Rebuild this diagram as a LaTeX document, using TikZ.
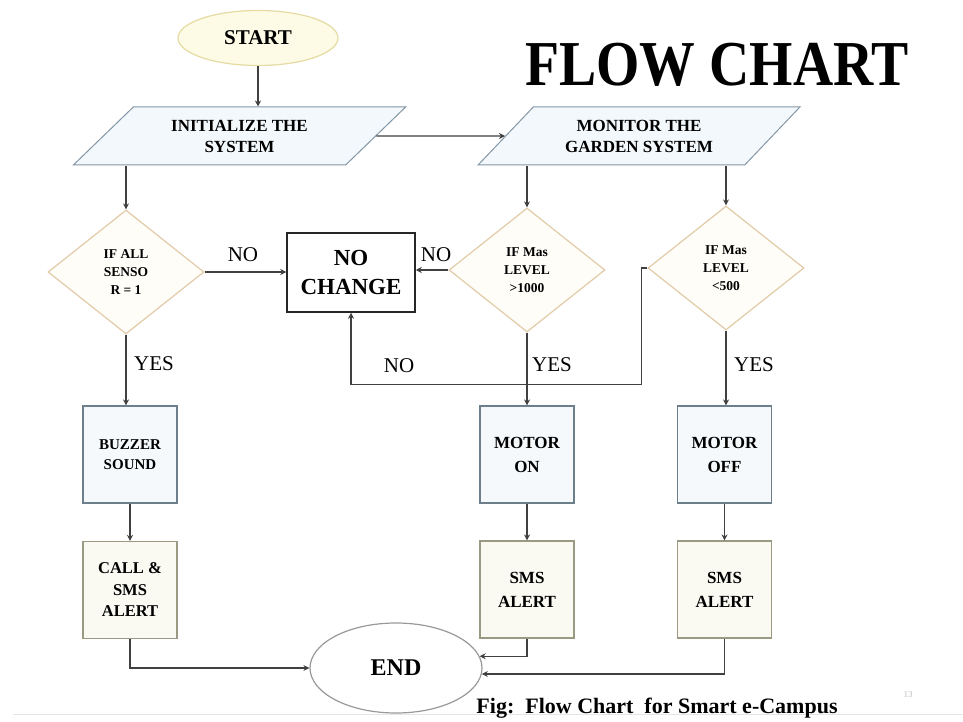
\documentclass[tikz,border=0pt]{standalone}
\usepackage{fontspec}
\setmainfont{Liberation Serif}
\usetikzlibrary{shapes.geometric,arrows.meta}
\definecolor{parafill}{HTML}{F2F8FB}
\definecolor{paraline}{HTML}{8497A6}
\definecolor{diafill}{HTML}{FFFDF8}
\definecolor{dialine}{HTML}{E2CBA8}
\definecolor{bluebox}{HTML}{F5F9FB}
\definecolor{blueline}{HTML}{6E7F8C}
\definecolor{greenbox}{HTML}{FAFAF3}
\definecolor{greenline}{HTML}{9A9A82}
\definecolor{startfill}{HTML}{FDFBE6}
\definecolor{startline}{HTML}{E6DBA2}
\definecolor{conn}{HTML}{404040}
\newcommand{\fs}[2]{\fontsize{#1}{#2}\selectfont}
\begin{document}
\begin{tikzpicture}[x=1pt,y=-1pt,
  para/.style={trapezium, trapezium stretches=true, trapezium left angle=40,
    trapezium right angle=140, draw=paraline, fill=parafill, line width=1pt,
    minimum height=58pt, inner sep=0pt, align=center, font=\fs{17}{21}\bfseries},
  decision/.style={diamond, draw=dialine, fill=diafill, line width=1.2pt,
    minimum width=156pt, minimum height=124pt, inner sep=0pt, align=center,
    font=\fs{13.5}{18}\bfseries},
  bluestep/.style={rectangle, draw=blueline, fill=bluebox, line width=1.1pt,
    minimum width=94pt, minimum height=97pt, inner sep=0pt, align=center},
  greenstep/.style={rectangle, draw=greenline, fill=greenbox, line width=1.1pt,
    minimum width=94pt, minimum height=97pt, inner sep=0pt, align=center},
  lbl/.style={font=\fs{21}{24}, inner sep=0pt},
  arr/.style={draw=conn, line width=1.2pt, -{Stealth[length=6pt,width=6pt]}}
]
\useasboundingbox (0,0) rectangle (963,722);
\fill[white] (0,0) rectangle (963,722);
\draw[black!10, line width=1pt] (13,714) -- (963,714);

% title
\node (title) at (717,65) {\scalebox{0.87}[1]{\fs{64}{70}\bfseries FLOW CHART}};

% nodes
\node[ellipse, draw=startline, fill=startfill, line width=1.2pt, minimum width=160pt,
  minimum height=55pt, inner sep=0pt, font=\fs{21}{24}\bfseries] (start) at (258,38) {START};
\node[para, minimum width=333pt] (init) at (239.5,136) {INITIALIZE THE\\SYSTEM};
\node[para, minimum width=322pt] (mon) at (639,136) {MONITOR THE\\GARDEN SYSTEM};

\node[decision] (d1) at (126,272) {IF ALL\\SENSO\\R = 1};
\node[decision] (d2) at (527,270) {IF Mas\\LEVEL\\>1000};
\node[decision] (d3) at (726,268) {IF Mas\\LEVEL\\<500};

\node[rectangle, draw=black!85, line width=1.5pt, fill=white, minimum width=128pt,
  minimum height=79pt, inner sep=0pt, align=center, font=\fs{23}{29}\bfseries]
  (nc) at (351,272.5) {NO\\CHANGE};

\node[bluestep, font=\fs{15}{20}\bfseries] (buzz) at (130,454.5) {BUZZER\\SOUND};
\node[greenstep, font=\fs{16.5}{21.5}\bfseries] (call) at (130,590) {CALL \&\\SMS\\ALERT};
\node[bluestep, font=\fs{17}{24}\bfseries] (mon1) at (527,454.5) {MOTOR\\ON};
\node[bluestep, font=\fs{17}{24}\bfseries] (mon2) at (724.5,454.5) {MOTOR\\OFF};
\node[greenstep, font=\fs{17}{24}\bfseries] (sms1) at (527,589.5) {SMS\\ALERT};
\node[greenstep, font=\fs{17}{24}\bfseries] (sms2) at (724.5,589.5) {SMS\\ALERT};

\node[ellipse, draw=black!40, fill=white, line width=1.2pt, minimum width=172pt,
  minimum height=90pt, inner sep=0pt, font=\fs{24}{28}\bfseries] (end) at (396,668) {END};

% connectors
\draw[arr] (start.south) -- (start.south |- init.north);
\draw[arr] (init.east) -- (mon.west);
\draw[arr] (init.south -| d1.north) -- (d1.north);
\draw[arr] (mon.south -| d2.north) -- (d2.north);
\draw[arr] (mon.south -| d3.north) -- (d3.north);
\draw[arr] (d1.east) -- (d1.east -| nc.west);
\draw[arr] (d2.west) -- (d2.west -| nc.east);
\draw[arr] (d3.west) -- ++(-6,0) |- ([yshift=-72pt]nc.south) -- (nc.south);
\draw[arr] (d1.south) -- (d1.south |- buzz.north);
\draw[arr] (d2.south) -- (d2.south |- mon1.north);
\draw[arr] (d3.south) -- (d3.south |- mon2.north);
\draw[arr] (buzz) -- (call);
\draw[arr] (mon1) -- (sms1);
\draw[arr] (mon2) -- (sms2);
\draw[arr] (call.south) |- (end.west);
\draw[arr] (sms1.south) |- (end.8);
\draw[arr] (sms2.south) |- (end.-4);

% labels
\node[lbl] (no1) at (243,255) {NO};
\node[lbl] (no2) at (436,255) {NO};
\node[lbl] (no3) at (399,366) {NO};
\node[lbl] (yes1) at (154,364) {YES};
\node[lbl] (yes2) at (552,365) {YES};
\node[lbl] (yes3) at (754,365) {YES};

\node[font=\fs{22}{26}\bfseries, inner sep=0pt] (cap) at (657,708) {Fig:\ \ Flow Chart\ \ for Smart e-Campus};
\node[font=\fs{9}{10}, text=black!25, inner sep=0pt] (pg) at (908,695) {13};
\end{tikzpicture}
\end{document}
